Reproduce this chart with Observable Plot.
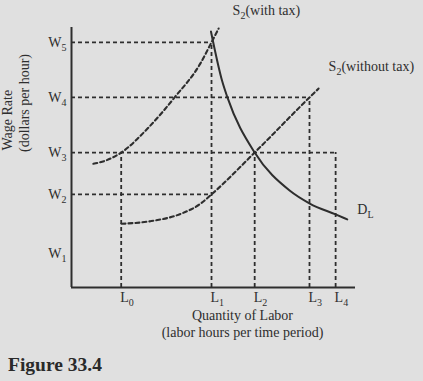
<!DOCTYPE html>
<html><head><meta charset="utf-8">
<script src="https://cdn.jsdelivr.net/npm/d3@7"></script>
<script src="https://cdn.jsdelivr.net/npm/@observablehq/plot@0.6"></script>
<style>
html,body{margin:0;padding:0;background:#e0e0e0;width:423px;height:381px;overflow:hidden;position:relative}
#chart svg, #chart svg text, #chart svg tspan{font-family:"Liberation Serif",serif !important}
#fig{position:absolute;left:8px;top:355px;font:bold 19.5px/1 "Liberation Serif",serif;color:#2a2a2a;white-space:nowrap}
</style></head><body>
<div id="chart"></div>
<div id="fig">Figure 33.4</div>
<script>
const wLabels = ["W_1","W_2","W_3","W_4","W_5"];
const wValues = [13.1, 35.8, 51.9, 73.1, 94.3];
const lLabels = ["L_0","L_1","L_2","L_3","L_4"];
const lValues = [17.5, 49.3, 64.5, 83.8, 93.0];
// supply with tax
const sTaxX = [7.7, 12.0, 17.5, 27.1, 36.3, 45.4, 49.3, 51.8];
const sTaxY = [47.6, 48.8, 51.9, 61.5, 73.1, 86.2, 94.3, 99.6];
// supply without tax
const sNoTaxX = [17.6, 27.8, 38.4, 45.4, 49.3, 64.5, 83.8, 87.0];
const sNoTaxY = [24.5, 25.5, 28.3, 32.2, 35.8, 51.9, 73.1, 76.5];
// demand for labor
const dX = [49.1, 53.1, 54.9, 64.5, 76.8, 83.9, 93.0, 97.1];
const dY = [98.5, 79.2, 73.1, 51.9, 37.3, 32.3, 28.1, 26.2];
const curveLabels = ["S_2(with tax)", "S_2(without tax)", "D_L"];
// guides: horizontal (wage index -> labor index), vertical (labor index -> wage index)
const hGuideW = [4, 3, 2, 1];
const hGuideL = [1, 3, 4, 1];
const vGuideL = [0, 1, 2, 3, 4];
const vGuideW = [2, 4, 2, 3, 2];

const toPts = (xs, ys) => xs.map((x, i) => ({x, y: ys[i]}));
const sTax = toPts(sTaxX, sTaxY);
const sNoTax = toPts(sNoTaxX, sNoTaxY);
const demand = toPts(dX, dY);
const hGuides = hGuideW.map((w, i) => ({y: wValues[w], x2: lValues[hGuideL[i]]}));
const vGuides = vGuideL.map((l, i) => ({x: lValues[l], y2: wValues[vGuideW[i]]}));
const ends = [sTax, sNoTax, demand].map((c, i) => ({...c[c.length - 1], label: curveLabels[i]}));

const ink = "#2e2e2e";
const font = '"Liberation Serif", serif';
const dash = {stroke: ink, strokeWidth: 1.8, strokeDasharray: "4,3"};
const txt = {fill: ink, fontSize: 14, textAnchor: "start", fontFamily: font};

const plot = Plot.plot({
  width: 423, height: 350,
  marginLeft: 71, marginRight: 68, marginTop: 27, marginBottom: 63,
  x: {domain: [0, 100]}, y: {domain: [0, 100]},
  style: {background: "#e0e0e0", fontFamily: font, color: ink, overflow: "visible"},
  marks: [
    Plot.ruleY(hGuides, {y: "y", x1: 0, x2: "x2", ...dash}),
    Plot.ruleX(vGuides, {x: "x", y1: 0, y2: "y2", ...dash}),
    Plot.line(sTax, {x: "x", y: "y", curve: "monotone-x", stroke: ink, strokeWidth: 2.1, strokeDasharray: "4,3"}),
    Plot.line(sNoTax, {x: "x", y: "y", curve: "monotone-x", stroke: ink, strokeWidth: 2.1, strokeDasharray: "4,3"}),
    Plot.line(demand, {x: "x", y: "y", curve: "monotone-x", stroke: ink, strokeWidth: 2}),
    Plot.ruleX([0], {y1: 0, y2: 100, stroke: ink, strokeWidth: 2}),
    Plot.ruleY([0], {x1: 0, x2: 100, stroke: ink, strokeWidth: 2}),
    Plot.axisY({ticks: wValues, tickFormat: d => wLabels[wValues.indexOf(d)], tickSize: 0, tickPadding: 5, fontSize: 14, fontFamily: font, label: null, fill: ink}),
    Plot.axisX({ticks: lValues, tickFormat: d => lLabels[lValues.indexOf(d)], tickSize: 0, tickPadding: 5, fontSize: 14, fontFamily: font, label: null, textAnchor: "start", dx: -1, fill: ink}),
    Plot.text([ends[0]], {x: "x", y: "y", text: "label", dx: 14, dy: -18, ...txt}),
    Plot.text([ends[1]], {x: "x", y: "y", text: "label", dx: 10, dy: -22, ...txt}),
    Plot.text([ends[2]], {x: "x", y: "y", text: "label", dx: 10, dy: -10, ...txt}),
    Plot.text(["Wage Rate"], {frameAnchor: "left", dx: -63.5, dy: -7, rotate: -90, fill: ink, fontSize: 14, fontFamily: font}),
    Plot.text(["(dollars per hour)"], {frameAnchor: "left", dx: -46.5, dy: -5.5, rotate: -90, fill: ink, fontSize: 14, fontFamily: font}),
    Plot.text(["Quantity of Labor"], {frameAnchor: "bottom", dx: 29, dy: 32, fill: ink, fontSize: 14, fontFamily: font}),
    Plot.text(["(labor hours per time period)"], {frameAnchor: "bottom", dx: 29, dy: 49, fill: ink, fontSize: 14, fontFamily: font})
  ]
});

const ns = "http://www.w3.org/2000/svg";
plot.querySelectorAll("text").forEach(t => {
  if (t.children.length) return;
  const m = t.textContent.match(/^(.*?)_(\w)(.*)$/);
  if (!m) return;
  t.setAttribute("font-family", font);
  t.style.fontFamily = font;
  t.textContent = m[1];
  const sub = document.createElementNS(ns, "tspan");
  sub.setAttribute("font-size", "10");
  sub.setAttribute("dy", "4");
  sub.textContent = m[2];
  t.appendChild(sub);
  if (m[3]) {
    const rest = document.createElementNS(ns, "tspan");
    rest.setAttribute("dy", "-4");
    rest.textContent = m[3];
    t.appendChild(rest);
  }
});
document.getElementById("chart").appendChild(plot);
</script>
</body></html>
